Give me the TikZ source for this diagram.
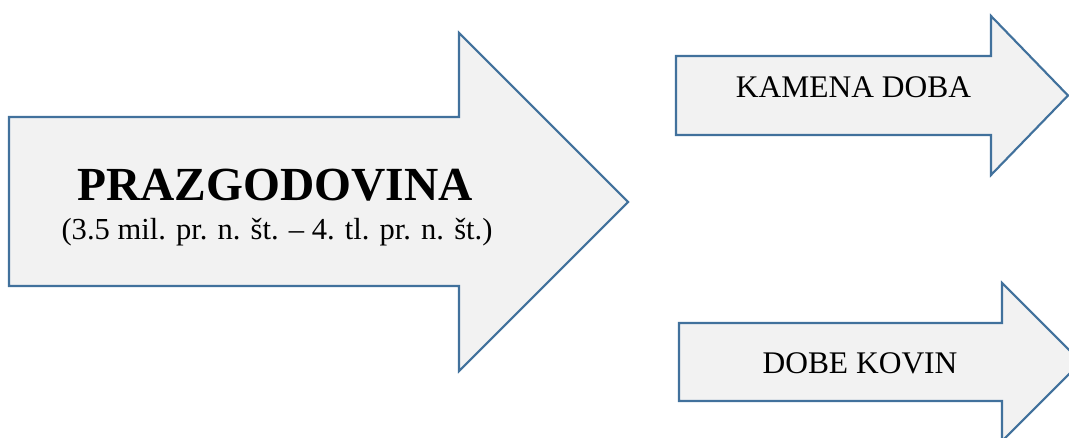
\documentclass[tikz,border=0pt]{standalone}
\usepackage{fontspec}
\setmainfont{Liberation Serif}
\usepackage{tikz}

\definecolor{arrowfill}{HTML}{F2F2F2}
\definecolor{arrowline}{HTML}{41719C}

\tikzset{
  blockarrow/.style={fill=arrowfill, draw=arrowline, line width=1.6pt, line join=miter},
  label/.style={anchor=base, inner sep=0pt, outer sep=0pt}
}

\begin{document}
\begin{tikzpicture}[x=0.75pt, y=-0.75pt]
\useasboundingbox (0,0) rectangle (1069,438);
\clip (0,0) rectangle (1069,438);

\draw[blockarrow] (9,117) -- (459,117) -- (459,33) -- (628,202) -- (459,371) -- (459,286) -- (9,286) -- cycle;
\draw[blockarrow] (676,56) -- (991,56) -- (991,16) -- (1068,95.5) -- (991,175) -- (991,135) -- (676,135) -- cycle;
\draw[blockarrow] (679,323) -- (1002,323) -- (1002,283) -- (1081,362) -- (1002,441) -- (1002,401) -- (679,401) -- cycle;

\node[label, font=\fontsize{35.6pt}{40pt}\selectfont\bfseries] (title) at (275,200) {PRAZGODOVINA};
\node[label, font=\fontsize{22.9pt}{28pt}\selectfont] (period) at (277,239) {(3.5 mil. pr. n. št. – 4. tl. pr. n. št.)};
\node[label, font=\fontsize{23.6pt}{28pt}\selectfont] (stone) at (853.5,98) {KAMENA DOBA};
\node[label, font=\fontsize{23.6pt}{28pt}\selectfont] (metal) at (860,373) {DOBE KOVIN};
\end{tikzpicture}
\end{document}
